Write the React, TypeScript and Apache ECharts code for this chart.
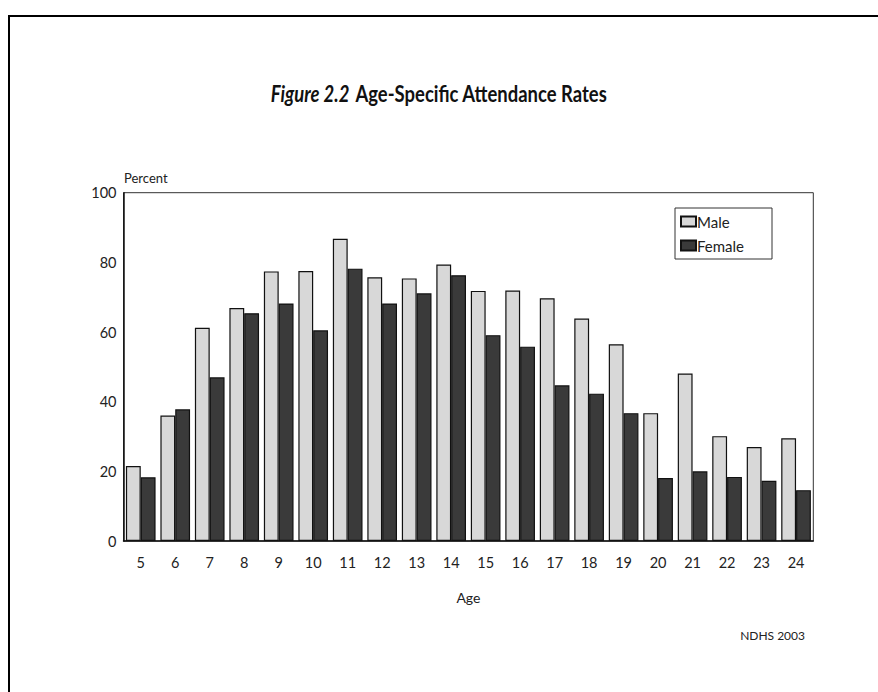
import React, { useEffect, useRef } from "react";
import * as echarts from "echarts";

const ages = ["5","6","7","8","9","10","11","12","13","14","15","16","17","18","19","20","21","22","23","24"];
const male = [21.5,36.0,61.2,66.9,77.4,77.5,86.8,75.7,75.4,79.4,71.8,71.9,69.7,63.9,56.5,36.7,48.1,30.1,27.0,29.5];
const female = [18.3,37.8,47.0,65.4,68.2,60.5,78.2,68.2,71.1,76.3,59.1,55.8,44.7,42.3,36.7,18.1,20.0,18.4,17.3,14.6];
const yTicks = [0, 20, 40, 60, 80, 100];

const FONT = "Lato, 'Open Sans', sans-serif";

export default function App() {
  const ref = useRef<HTMLDivElement>(null);
  useEffect(() => {
    document.body.style.margin = "0";
    const chart = echarts.init(ref.current!, null, { renderer: "svg" });
    chart.setOption({
      animation: false,
      backgroundColor: "#ffffff",
      textStyle: { fontFamily: FONT },
      grid: {
        left: 123.5,
        top: 192.7,
        right: 64.7,
        bottom: 151,
        show: true,
        borderColor: "#333",
        borderWidth: 1,
        backgroundColor: "transparent",
      },
      xAxis: {
        type: "category",
        data: ages,
        name: "Age",
        nameLocation: "middle",
        nameGap: 49,
        nameTextStyle: { fontSize: 14, color: "#222", fontFamily: FONT },
        axisLine: { show: true, lineStyle: { color: "#111", width: 1.5 } },
        axisTick: { show: false },
        axisLabel: { fontSize: 14.5, color: "#222", margin: 14, fontFamily: FONT },
      },
      yAxis: {
        type: "value",
        min: yTicks[0],
        max: yTicks[yTicks.length - 1],
        interval: 20,
        axisLine: { show: true, lineStyle: { color: "#111", width: 1.5 } },
        axisTick: { show: false },
        splitLine: { show: false },
        axisLabel: { fontSize: 14.5, color: "#222", margin: 7, fontFamily: FONT },
      },
      legend: {
        left: 680,
        top: 214,
        padding: 0,
        orient: "vertical",
        itemWidth: 15,
        itemHeight: 10,
        itemGap: 9,
        icon: "rect",
        textStyle: { fontSize: 15, color: "#222", padding: [0, 0, 0, -4], fontFamily: FONT },
        data: ["Male", "Female"],
      },
      series: [
        {
          name: "Male",
          type: "bar",
          data: male,
          barGap: "0%",
          barCategoryGap: "14%",
          itemStyle: { color: "#d8d8d8", borderColor: "#111", borderWidth: 1.2 },
        },
        {
          name: "Female",
          type: "bar",
          data: female,
          barGap: "0%",
          barCategoryGap: "14%",
          itemStyle: { color: "#3a3a3a", borderColor: "#111", borderWidth: 1.2 },
        },
      ],
      graphic: [
        {
          type: "rect",
          shape: { x: 9, y: 16, width: 900, height: 700 },
          style: { fill: "none", stroke: "#000", lineWidth: 2 },
          silent: true,
        },
        {
          type: "rect",
          shape: { x: 675, y: 208, width: 97, height: 51 },
          style: { fill: "none", stroke: "#333", lineWidth: 1 },
          silent: true,
        },
        {
          type: "text",
          x: 439,
          y: 93,
          scaleX: 0.84,
          style: {
            text: "{a|Figure 2.2}  {b|Age-Specific Attendance Rates}",
            align: "center",
            verticalAlign: "middle",
            rich: {
              a: { fontSize: 22, fontWeight: "bold", fontStyle: "italic", fill: "#111", fontFamily: FONT },
              b: { fontSize: 22, fontWeight: "bold", fill: "#111", fontFamily: FONT },
            },
          },
        },
        {
          type: "text",
          x: 124,
          y: 178,
          style: { text: "Percent", fontSize: 13, fill: "#222", align: "left", verticalAlign: "middle", fontFamily: FONT },
        },
        {
          type: "text",
          x: 805,
          y: 635,
          style: { text: "NDHS 2003", fontSize: 12, fill: "#222", align: "right", verticalAlign: "middle", fontFamily: FONT },
        },
      ],
    });
    return () => chart.dispose();
  }, []);
  return <div ref={ref} style={{ position: "fixed", left: 0, top: 0, width: 878, height: 692 }} />;
}
